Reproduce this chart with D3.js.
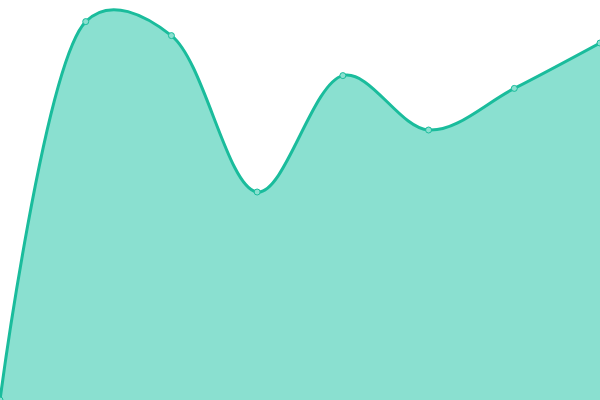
<!DOCTYPE html>
<html>
<head>
<meta charset="utf-8">
<script src="https://cdn.jsdelivr.net/npm/d3@7"></script>
<style>
  body { margin: 0; background: #fff; }
  svg { display: block; }
</style>
</head>
<body>
<div id="chart"></div>
<script>
/* CONSTANTS AND GLOBALS */
const width = 600,
  height = 400,
  radius = 3;

/* DATA */
const steps = [0, 1, 2, 3, 4, 5, 6, 7];
const values = [0, 94.6, 91.1, 52, 81.1, 67.5, 77.9, 89.25];

const data = steps.map((s, i) => ({ step: s, value: values[i] }));

// + SCALES
const xScale = d3.scaleLinear()
  .domain(d3.extent(steps))
  .range([0, width]);

const yScale = d3.scaleLinear()
  .domain([0, 100])
  .range([height, 0]);

const svg = d3.select("#chart")
  .append("svg")
  .attr("width", width)
  .attr("height", height);

// smooth curve through every point, a bit looser than centripetal
const curve = d3.curveCatmullRom.alpha(0.35);

const area = d3.area()
  .x(d => xScale(d.step))
  .y0(height)
  .y1(d => yScale(d.value))
  .curve(curve);

const line = d3.line()
  .x(d => xScale(d.step))
  .y(d => yScale(d.value))
  .curve(curve);

svg.append("path")
  .datum(data)
  .attr("fill", "#8ae0d0")
  .attr("d", area);

svg.append("path")
  .datum(data)
  .attr("fill", "none")
  .attr("stroke", "#1abc9c")
  .attr("stroke-width", 3)
  .attr("d", line);

// dots
svg.selectAll(".dot")
  .data(data)
  .join("circle")
  .attr("class", "dot")
  .attr("cx", d => xScale(d.step))
  .attr("cy", d => yScale(d.value))
  .attr("r", radius)
  .attr("fill", "#8ae0d0")
  .attr("stroke", "#1abc9c")
  .attr("stroke-width", 1);
</script>
</body>
</html>
